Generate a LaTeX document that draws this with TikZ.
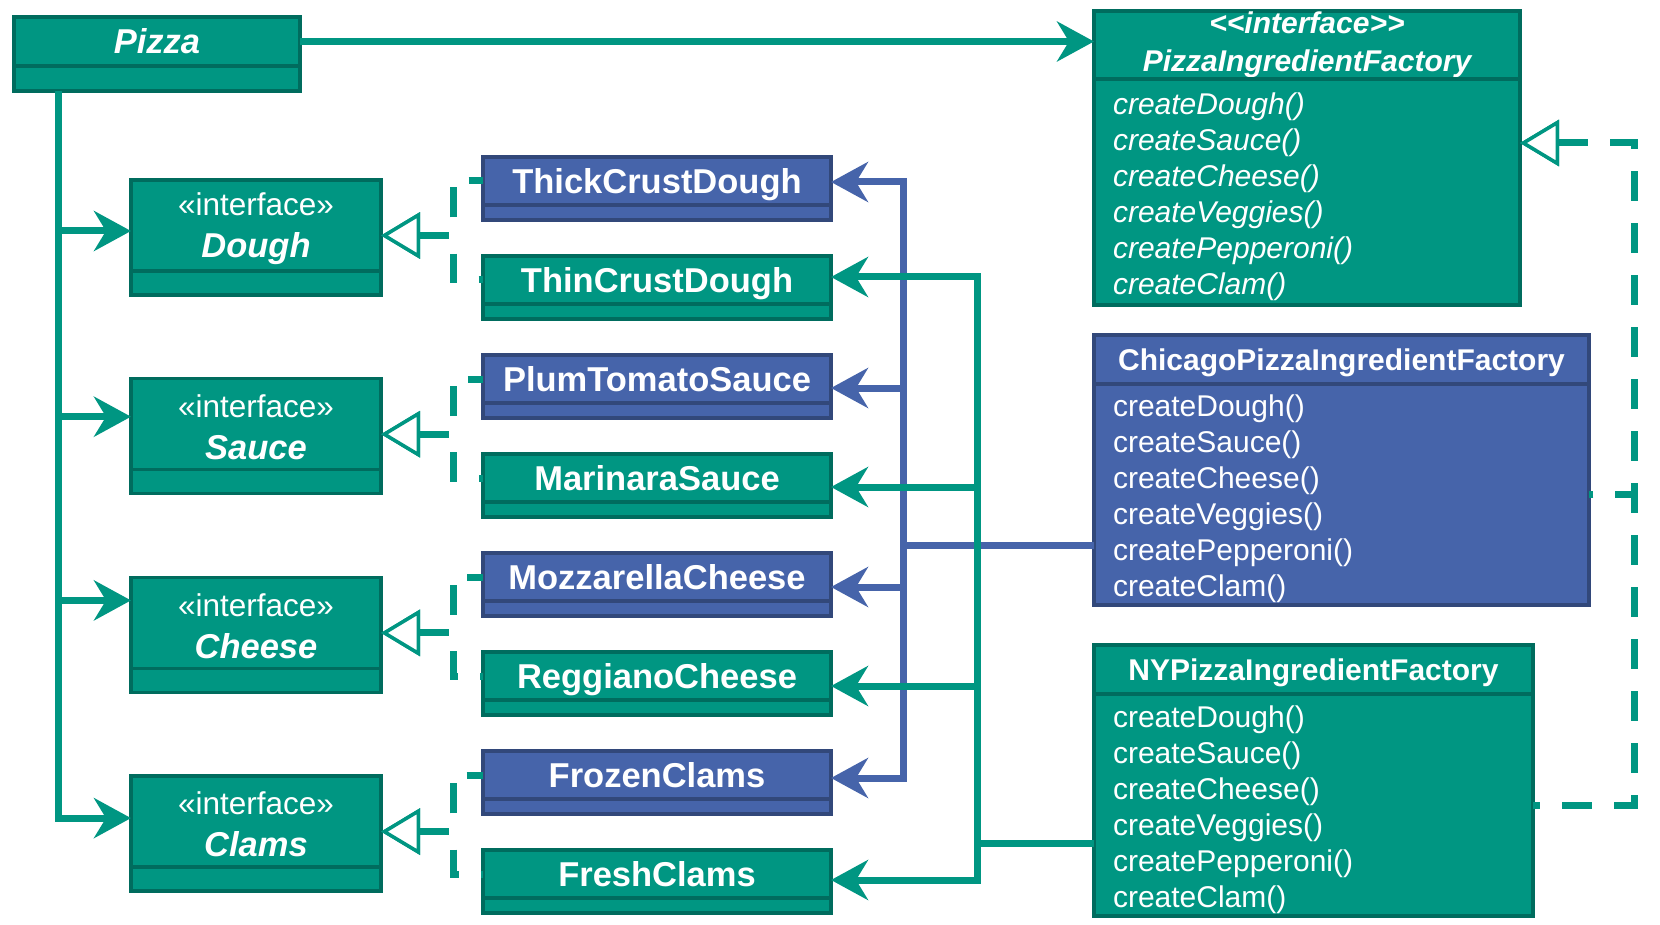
\documentclass[tikz,border=0pt]{standalone}
\usepackage{fontspec}
\setmainfont{Liberation Sans}
\usetikzlibrary{arrows.meta,positioning}

\definecolor{umlgreen}{RGB}{0,150,130}
\definecolor{umlblue}{RGB}{70,100,170}

\newcommand{\namefont}{\fontsize{34.5}{42}\selectfont\bfseries}
\newcommand{\stereofont}{\fontsize{31.5}{42}\selectfont}
\newcommand{\factfont}{\fontsize{30}{38}\selectfont\bfseries}
\newcommand{\opsfont}{\fontsize{30}{36}\selectfont}
\newcommand{\opslist}{\rule{0pt}{31pt}createDough()\\createSauce()\\createCheese()\\createVeggies()\\createPepperoni()\\createClam()}

\tikzset{
    box/.style={draw=#1!72!black, fill=#1, line width=3.5pt, inner sep=0pt, outer sep=0pt, text=white, anchor=north west},
    clsname/.style={box=#1, font=\namefont, text height=25pt, text depth=0pt},
    facttitle/.style={box=#1, font=\factfont, text height=21.5pt, text depth=0pt},
    ops/.style={box=#1, inner xsep=19pt, align=left, font=\opsfont},
    assoc/.style={draw=#1, line width=7pt, -{Stealth[length=37pt, width=40pt, inset=12pt]}},
    realize/.style={draw=umlgreen, line width=7pt, dash pattern=on 30pt off 22pt,
        {Triangle[open, length=39pt, width=46pt, line width=3.5pt, fill=white]}-}
}

\begin{document}
\begin{tikzpicture}[x=1pt, y=-1pt]
    \useasboundingbox (0,0) rectangle (1660,925);

    \node[clsname=umlgreen, font=\namefont\itshape, minimum width=286pt, minimum height=49pt] (pizza) at (14,17) {Pizza};
    \draw[box=umlgreen] (pizza.south west) rectangle ++(286,25);

    \foreach \n/\t [count=\i from 0] in {dough/Dough, sauce/Sauce, cheese/Cheese, clams/Clams} {
        \node[box=umlgreen, font=\stereofont, align=center, minimum width=250pt, minimum height=91pt] (\n) at (131,{180+198.7*\i}) {\rule{0pt}{29pt}«interface»\\{\namefont\itshape\t}};
        \draw[box=umlgreen] (\n.south west) rectangle ++(250,24);
    }

    \foreach \n/\t/\col [count=\i from 0] in {thick/ThickCrustDough/umlblue, thin/ThinCrustDough/umlgreen,
            plum/PlumTomatoSauce/umlblue, marinara/MarinaraSauce/umlgreen,
            mozzarella/MozzarellaCheese/umlblue, reggiano/ReggianoCheese/umlgreen,
            frozen/FrozenClams/umlblue, fresh/FreshClams/umlgreen} {
        \node[clsname=\col, minimum width=348pt, minimum height=48pt] (\n) at (483,{157+99*\i}) {\t};
        \draw[box=\col] (\n.south west) rectangle ++(348,15);
    }

    \node[box=umlgreen, font=\factfont\itshape, align=center, minimum width=426pt, minimum height=68pt] (ifactory) at (1094,11) {<\kern0pt<interface>\kern0pt>\\PizzaIngredientFactory};
    \node[ops=umlgreen, font=\opsfont\itshape, text width=388pt, minimum height=226pt, below=0pt of ifactory] (ifactoryops) {\opslist};

    \node[facttitle=umlblue, minimum width=495pt, minimum height=49pt] (chicago) at (1094,335) {ChicagoPizzaIngredientFactory};
    \node[ops=umlblue, text width=457pt, minimum height=221pt, below=0pt of chicago] (chicagoops) {\opslist};

    \node[facttitle=umlgreen, minimum width=439pt, minimum height=49pt] (ny) at (1094,645) {NYPizzaIngredientFactory};
    \node[ops=umlgreen, text width=401pt, minimum height=222pt, below=0pt of ny] (nyops) {\opslist};

    \draw[assoc=umlgreen] (pizza.east) -- (pizza.east -| ifactory.west);
    \coordinate (trunk) at ([xshift=44pt, yshift=-25pt]pizza.south west);
    \foreach \n/\s in {dough/-5.5pt, sauce/7.5pt, cheese/22.5pt, clams/3.5pt}
        \draw[assoc=umlgreen] (trunk) |- ([yshift=\s]\n.west);

    \foreach \n/\up/\dn in {dough/thick/thin, sauce/plum/marinara, cheese/mozzarella/reggiano, clams/frozen/fresh} {
        \draw[realize] ([yshift=-10pt]\n.east) -- ++(72,0) |- (\up.west);
        \draw[realize] ([yshift=-10pt]\n.east) -- ++(72,0) |- (\dn.west);
    }

    \foreach \n/\s in {thick/-1pt, plum/-9pt, mozzarella/-10pt, frozen/-3pt}
        \draw[assoc=umlblue] ([yshift=-50.5pt]chicagoops.west) -- ++(-191,0) |- ([yshift=\s]\n.east);
    \foreach \n/\s in {thin/3pt, marinara/-9pt, reggiano/-10pt, fresh/-6pt}
        \draw[assoc=umlgreen] ([yshift=-38pt]nyops.west) -- ++(-117,0) |- ([yshift=\s]\n.east);

    \draw[realize] ([yshift=49pt]ifactoryops.east) -- ++(114,0) |- (chicagoops.east);
    \draw[realize] ([yshift=49pt]ifactoryops.east) -- ++(114,0) |- (nyops.east);
\end{tikzpicture}
\end{document}
